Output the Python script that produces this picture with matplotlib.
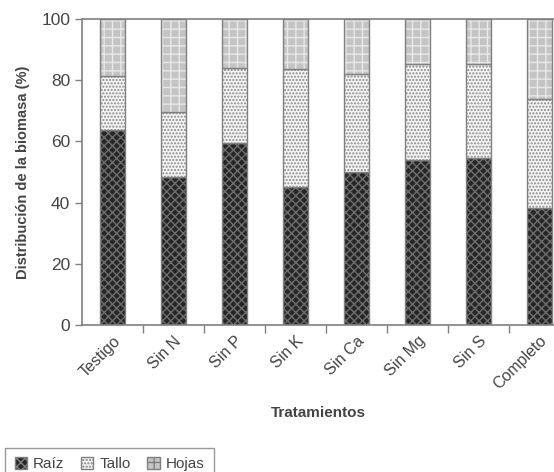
import matplotlib
matplotlib.use('Agg')
import matplotlib.pyplot as plt
from matplotlib.patches import Patch
import numpy as np

plt.rcParams['font.family'] = ['Liberation Sans Narrow', 'Liberation Sans', 'DejaVu Sans']
plt.rcParams['hatch.linewidth'] = 1.0

# data
tratamientos = ['Testigo', 'Sin N', 'Sin P', 'Sin K', 'Sin Ca', 'Sin Mg', 'Sin S', 'Completo']
raiz = [63.7, 48.4, 59.5, 45.0, 50.0, 54.0, 54.6, 38.2]
tallo = [17.7, 21.2, 24.5, 38.7, 32.0, 31.3, 30.7, 35.7]
hojas = [100 - r - t for r, t in zip(raiz, tallo)]

gray = '#808080'
txt = '#444444'

fig = plt.figure(figsize=(5.54, 4.72), dpi=100)
ax = fig.add_axes([0.148, 0.3114, 0.852, 0.6483])

x = np.arange(len(tratamientos))
w = 0.42

# (label, values, face, hatch color, hatch)
capas = [
    ('Raíz', raiz, '#262626', '#6e6e6e', 'xxxx'),
    ('Tallo', tallo, '#f4f4f4', '#8a8a8a', '.....'),
    ('Hojas', hojas, '#c4c4c4', '#e8e8e8', '++'),
]

bottom = np.zeros(len(x))
handles = []
for label, vals, face, hc, hatch in capas:
    ax.bar(x, vals, w, bottom=bottom, color=face, edgecolor=hc, linewidth=0, hatch=hatch)
    ax.bar(x, vals, w, bottom=bottom, fill=False, edgecolor=gray, linewidth=1.0)
    bottom += np.array(vals)
    handles.append(Patch(facecolor=face, edgecolor=gray, hatch=hatch, label=label))

ax.set_xlim(-0.5, 7.24)
ax.set_ylim(0, 100)
ax.set_yticks([0, 20, 40, 60, 80, 100])
ax.tick_params(axis='y', colors=gray, labelcolor=txt, labelsize=12.5, length=5, width=1)

ax.set_xticks(x)
ax.set_xticklabels(tratamientos, rotation=45, ha='right', rotation_mode='anchor', fontsize=11.5, color=txt)
ax.tick_params(axis='x', which='major', length=0, pad=6)
ax.set_xticks(np.arange(0.5, 7.0, 1.0), minor=True)
ax.tick_params(axis='x', which='minor', length=6, width=1, colors=gray, direction='out')

for s in ['left', 'bottom', 'top']:
    ax.spines[s].set_color(gray)
    ax.spines[s].set_linewidth(1.2)
ax.spines['right'].set_visible(False)

ax.set_ylabel('Distribución de la biomasa (%)', fontsize=10.5, fontweight='bold', color=txt, labelpad=8)
ax.set_xlabel('Tratamientos', fontsize=11, fontweight='bold', color=txt, labelpad=10)

fig.legend(handles=handles, loc='lower left', bbox_to_anchor=(-0.004, -0.034), ncol=3,
           frameon=True, fancybox=False, edgecolor=gray, fontsize=11,
           handlelength=0.8, handleheight=0.8, handletextpad=0.4, columnspacing=1.1,
           labelcolor=txt, borderpad=0.6)

fig.savefig('out.png', dpi=100)
